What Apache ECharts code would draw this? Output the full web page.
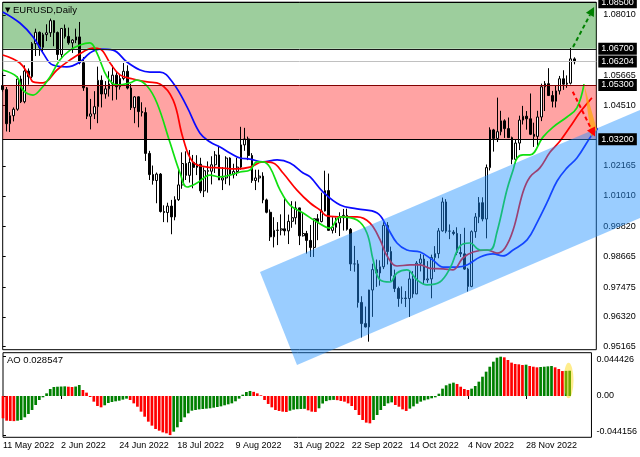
<!DOCTYPE html>
<html><head><meta charset="utf-8">
<script src="https://cdn.jsdelivr.net/npm/echarts@6/dist/echarts.min.js"></script>
<style>html,body{margin:0;padding:0;background:#fff}#c{width:640px;height:457px}</style>
</head><body><div id="c"></div>
<script>
const FONT = '"Liberation Sans Narrow","Liberation Sans",Arial,sans-serif';

const tickLabels = ['11 May 2022','2 Jun 2022','24 Jun 2022','18 Jul 2022','9 Aug 2022','31 Aug 2022','22 Sep 2022','14 Oct 2022','4 Nov 2022','28 Nov 2022'];
const tickBars = [0,16,32,48,64,80,96,112,128,144];

const opens = [1.0528,1.0512,1.0380,1.0411,1.0436,1.0553,1.0465,1.0584,1.0562,1.0690,
1.0734,1.0676,1.0725,1.0732,1.0779,1.0733,1.0648,1.0749,1.0718,1.0693,
1.0704,1.0716,1.0616,1.0519,1.0409,1.0418,1.0446,1.0548,1.0495,1.0515,
1.0534,1.0568,1.0523,1.0555,1.0583,1.0518,1.0442,1.0484,1.0427,1.0423,
1.0265,1.0183,1.0160,1.0185,1.0040,1.0036,1.0061,1.0019,1.0086,1.0143,
1.0226,1.0180,1.0230,1.0211,1.0223,1.0120,1.0198,1.0196,1.0221,1.0259,
1.0162,1.0170,1.0247,1.0183,1.0195,1.0212,1.0298,1.0321,1.0257,1.0160,
1.0170,1.0177,1.0085,1.0037,0.9942,0.9967,0.9968,0.9973,0.9965,1.0002,
1.0016,1.0054,0.9946,0.9955,0.9928,0.9901,1.0012,1.0001,1.0042,1.0121,
0.9967,0.9979,0.9996,1.0016,1.0025,0.9971,0.9837,0.9837,0.9688,0.9606,
0.9593,0.9736,0.9815,0.9802,0.9826,0.9986,0.9885,0.9791,0.9742,0.9703,
0.9705,0.9703,0.9779,0.9721,0.9840,0.9856,0.9775,0.9779,0.9862,0.9877,
0.9965,1.0077,0.9964,0.9960,0.9955,0.9881,0.9876,0.9817,0.9750,0.9962,
1.0019,1.0074,1.0011,1.0210,1.0356,1.0323,1.0349,1.0391,1.0361,1.0326,
1.0242,1.0305,1.0394,1.0409,1.0399,1.0339,1.0331,1.0406,1.0523,1.0535,
1.0489,1.0467,1.0507,1.0554,1.0533,1.0537,1.0631];
const highs = [1.0577,1.0522,1.0425,1.0443,1.0563,1.0566,1.0606,1.0594,1.0696,1.0748,
1.0737,1.0732,1.0765,1.0787,1.0781,1.0737,1.0750,1.0764,1.0752,1.0707,
1.0748,1.0774,1.0638,1.0522,1.0476,1.0506,1.0601,1.0567,1.0545,1.0583,
1.0606,1.0580,1.0570,1.0615,1.0606,1.0534,1.0487,1.0486,1.0463,1.0443,
1.0275,1.0218,1.0191,1.0189,1.0064,1.0074,1.0085,1.0099,1.0201,1.0269,
1.0273,1.0278,1.0259,1.0258,1.0248,1.0211,1.0234,1.0254,1.0274,1.0294,
1.0212,1.0254,1.0250,1.0225,1.0248,1.0368,1.0364,1.0330,1.0266,1.0202,
1.0202,1.0192,1.0090,1.0048,1.0018,0.9999,1.0029,1.0090,1.0028,1.0080,
1.0079,1.0055,1.0034,0.9965,0.9988,1.0012,1.0030,1.0113,1.0198,1.0187,
1.0018,1.0017,1.0037,1.0050,1.0051,0.9976,0.9907,0.9852,0.9712,0.9672,
0.9737,0.9838,0.9854,0.9851,0.9999,0.9999,0.9904,0.9815,0.9749,0.9750,
0.9732,0.9808,0.9809,0.9848,0.9876,0.9872,0.9848,0.9873,0.9906,0.9976,
1.0094,1.0088,0.9990,0.9968,0.9979,0.9953,0.9977,0.9822,0.9967,1.0034,
1.0096,1.0095,1.0222,1.0366,1.0360,1.0481,1.0430,1.0397,1.0404,1.0330,
1.0317,1.0411,1.0449,1.0429,1.0497,1.0384,1.0430,1.0535,1.0545,1.0595,
1.0507,1.0528,1.0565,1.0587,1.0567,1.0673,1.0637];
const lows = [1.0504,1.0350,1.0348,1.0389,1.0430,1.0460,1.0459,1.0531,1.0556,1.0642,
1.0643,1.0660,1.0700,1.0716,1.0680,1.0627,1.0633,1.0710,1.0686,1.0654,
1.0692,1.0610,1.0507,1.0398,1.0358,1.0398,1.0382,1.0443,1.0477,1.0485,
1.0470,1.0473,1.0512,1.0548,1.0513,1.0433,1.0382,1.0366,1.0408,1.0236,
1.0162,1.0144,1.0072,1.0036,0.9999,0.9998,0.9952,1.0006,1.0081,1.0128,
1.0162,1.0152,1.0130,1.0181,1.0111,1.0096,1.0113,1.0145,1.0189,1.0162,
1.0123,1.0146,1.0141,1.0168,1.0178,1.0202,1.0275,1.0239,1.0151,1.0123,
1.0153,1.0072,1.0033,0.9926,0.9901,0.9910,0.9948,0.9947,0.9914,0.9977,
0.9990,0.9910,0.9943,0.9877,0.9864,0.9864,0.9929,0.9998,1.0040,0.9966,
0.9955,0.9957,0.9945,0.9966,0.9966,0.9810,0.9807,0.9668,0.9552,0.9591,
0.9536,0.9632,0.9748,0.9753,0.9817,0.9835,0.9771,0.9728,0.9671,0.9683,
0.9670,0.9632,0.9706,0.9720,0.9808,0.9758,0.9764,0.9704,0.9806,0.9859,
0.9962,0.9956,0.9933,0.9948,0.9871,0.9864,0.9814,0.9730,0.9747,0.9938,
0.9995,1.0002,0.9936,1.0199,1.0272,1.0309,1.0335,1.0325,1.0326,1.0223,
1.0226,1.0278,1.0377,1.0357,1.0336,1.0290,1.0289,1.0390,1.0429,1.0490,
1.0443,1.0443,1.0493,1.0511,1.0519,1.0532,1.0610];
const closes = [1.0512,1.0380,1.0411,1.0436,1.0553,1.0465,1.0584,1.0562,1.0690,1.0734,
1.0676,1.0725,1.0732,1.0779,1.0733,1.0648,1.0749,1.0718,1.0693,1.0704,
1.0716,1.0616,1.0519,1.0409,1.0418,1.0446,1.0548,1.0495,1.0515,1.0534,
1.0568,1.0523,1.0555,1.0583,1.0518,1.0442,1.0484,1.0427,1.0423,1.0265,
1.0183,1.0160,1.0185,1.0040,1.0036,1.0061,1.0019,1.0086,1.0143,1.0226,
1.0180,1.0230,1.0211,1.0223,1.0120,1.0198,1.0196,1.0221,1.0259,1.0162,
1.0170,1.0247,1.0183,1.0195,1.0212,1.0298,1.0321,1.0257,1.0160,1.0170,
1.0177,1.0085,1.0037,0.9942,0.9967,0.9968,0.9973,0.9965,1.0002,1.0016,
1.0054,0.9946,0.9955,0.9928,0.9901,1.0012,1.0001,1.0042,1.0121,0.9967,
0.9979,0.9996,1.0016,1.0025,0.9971,0.9837,0.9837,0.9688,0.9606,0.9593,
0.9736,0.9815,0.9802,0.9826,0.9986,0.9885,0.9791,0.9742,0.9703,0.9705,
0.9703,0.9779,0.9721,0.9840,0.9856,0.9775,0.9779,0.9862,0.9877,0.9965,
1.0077,0.9964,0.9964,0.9955,0.9881,0.9876,0.9817,0.9750,0.9962,1.0019,
1.0074,1.0011,1.0210,1.0356,1.0323,1.0349,1.0391,1.0361,1.0326,1.0242,
1.0305,1.0394,1.0409,1.0399,1.0339,1.0331,1.0406,1.0523,1.0535,1.0489,
1.0467,1.0507,1.0554,1.0533,1.0537,1.0631,1.0620];

// Alligator lines: [bar index, price]
const jawLine = [[0,1.0813],[4.7,1.0770],[8.3,1.0716],[11,1.0654],[13.7,1.0607],[17.5,1.0600],[21.1,1.0619],[23.8,1.0654],[26.6,1.0669],[30.1,1.0665],[33.9,1.0619],[37.5,1.0588],[40.2,1.0580],[42.9,1.0580],[46.5,1.0538],[50.3,1.0445],[53.8,1.0344],[56.6,1.0309],[59.3,1.0290],[62,1.0267],[64.8,1.0247],[67.5,1.0243],[71,1.0232],[74.9,1.0240],[78.4,1.0228],[82,1.0189],[83.9,1.0174],[87.4,1.0116],[92.1,1.0065],[96.7,1.0050],[102.2,1.0034],[104.9,0.9980],[107.6,0.9918],[110.3,0.9891],[113.9,0.9883],[117.4,0.9852],[120.2,0.9825],[124,0.9825],[126.7,0.9833],[130.3,0.9864],[133.8,0.9876],[136.5,0.9868],[139.3,0.9891],[143.1,0.9930],[145.8,0.9996],[148.5,1.0073],[151.3,1.0158],[154,1.0209],[156.7,1.0247],[160.8,1.0336],[163,1.0368]];
const teethLine = [[0,1.0646],[4.7,1.0615],[7.4,1.0561],[8.3,1.0542],[11,1.0538],[14.8,1.0588],[18.4,1.0627],[21.9,1.0658],[24.6,1.0673],[26.6,1.0669],[29.3,1.0615],[32,1.0569],[35.6,1.0553],[39.4,1.0542],[42.9,1.0534],[46.5,1.0472],[49.2,1.0325],[51.9,1.0232],[55.8,1.0212],[59.3,1.0209],[63.7,1.0205],[67.5,1.0212],[71,1.0232],[73.8,1.0228],[76.5,1.0189],[80.3,1.0123],[83.9,1.0073],[86.6,1.0046],[88.5,1.0023],[92.9,1.0019],[96.7,1.0019],[100.2,0.9996],[103,0.9930],[104.9,0.9868],[107.6,0.9829],[111.2,0.9833],[113.9,0.9833],[116.6,0.9820],[120.2,0.9818],[122.9,0.9814],[125.6,0.9860],[128.4,0.9883],[132.2,0.9891],[134.9,0.9879],[137.1,0.9899],[139.3,0.9968],[142,1.0116],[143.9,1.0174],[146.6,1.0209],[149.4,1.0270],[152.1,1.0313],[154.8,1.0367],[157.6,1.0425],[160.8,1.0480]];
const lipsLine = [[0,1.0588],[3.9,1.0561],[5.5,1.0511],[8.3,1.0491],[10.2,1.0511],[12.9,1.0561],[15.6,1.0627],[18.4,1.0665],[21.1,1.0685],[23.8,1.0693],[25.7,1.0654],[28.5,1.0561],[31.2,1.0530],[34.7,1.0538],[36.6,1.0549],[39.4,1.0526],[42.1,1.0460],[45.7,1.0305],[48.4,1.0189],[50.3,1.0135],[53,1.0150],[56.6,1.0181],[59.3,1.0174],[62,1.0181],[64.8,1.0193],[67.5,1.0201],[69.4,1.0232],[71,1.0232],[72.9,1.0212],[75.7,1.0123],[78.4,1.0065],[82,1.0034],[85.8,0.9999],[89.3,0.9976],[92.1,1.0019],[96.7,1.0007],[99.4,0.9957],[101.1,0.9852],[103,0.9775],[105.7,0.9767],[107.6,0.9802],[110.3,0.9814],[113.1,0.9775],[115.8,0.9756],[119.3,0.9767],[122.1,0.9821],[124.8,0.9906],[127.5,0.9918],[130.3,0.9891],[133,0.9891],[134.9,0.9961],[137.6,1.0123],[139.3,1.0201],[140.4,1.0247],[142,1.0259],[143.9,1.0259],[147.5,1.0329],[150.2,1.0367],[154,1.0406],[156.7,1.0441],[158.65,1.0533]];

const aoValues = [-0.0252,-0.0279,-0.0282,-0.0284,-0.0279,-0.0271,-0.0241,-0.0203,-0.0158,-0.0102,
-0.0045,-0.0015,0.0030,0.0079,0.0102,0.0105,0.0107,0.0109,0.0105,0.0102,
0.0107,0.0124,0.0068,0.0038,-0.0011,-0.0064,-0.0113,-0.0128,-0.0105,-0.0079,
-0.0068,-0.0060,-0.0053,-0.0041,-0.0030,-0.0045,-0.0083,-0.0121,-0.0177,-0.0234,
-0.0290,-0.0335,-0.0373,-0.0392,-0.0411,-0.0422,-0.04416,-0.0403,-0.0354,-0.0294,
-0.0241,-0.0196,-0.0166,-0.0158,-0.0151,-0.0147,-0.0143,-0.0139,-0.0132,-0.0124,
-0.0117,-0.0105,-0.0094,-0.0083,-0.0060,-0.0030,0.0015,0.0045,0.0057,0.0047,
0.0030,0.0008,-0.0045,-0.0090,-0.0128,-0.0158,-0.0169,-0.0177,-0.0181,-0.0166,
-0.0154,-0.0149,-0.0147,-0.0145,-0.0162,-0.0177,-0.0180,-0.0139,-0.0085,-0.0058,
-0.0047,-0.0044,-0.0047,-0.0056,-0.0064,-0.0083,-0.0113,-0.0158,-0.0215,-0.0271,
-0.0301,-0.0309,-0.0271,-0.0215,-0.0158,-0.0113,-0.0083,-0.0072,-0.0102,-0.0121,
-0.0151,-0.0169,-0.0143,-0.0117,-0.0087,-0.0064,-0.0049,-0.0038,-0.0026,-0.0015,
0.0026,0.0083,0.0121,0.0139,0.0151,0.0136,0.0105,0.0079,0.0068,0.0083,
0.0113,0.0162,0.0218,0.0275,0.0331,0.0388,0.0433,0.044426,0.0437,0.0407,
0.0377,0.0362,0.0358,0.0350,0.0354,0.0339,0.0331,0.0324,0.0328,0.0331,
0.0335,0.0339,0.0324,0.0305,0.0282,0.0284,0.028547];

const priceTicks = [1.08010,1.05665,1.04510,1.02165,1.01010,0.99820,0.98665,0.97475,0.96320,0.95165];
const aoTicks = [0.044426,0,-0.044156];
const greenZone = [1.067,1.085];
const redZone = [1.032,1.053];
const bidPrice = [1.06204];
const channelPts = [[70.22,0.98058],[190.3,1.05323],[190.3,1.01144],[80.32,0.94457]];
const projectionPts = [[158.65,1.05326],[162.2,1.03557],[160.6,1.03286]];
const upArrow = [[155.65,1.06771],[161.4,1.08320]];
const downArrow = [[155.57,1.05040],[161.65,1.03305]];
const aoHighlight = [155.7,0.0175,1.36,0.0201]; // centre x, centre y, radius x, radius y

const chart = echarts.init(document.getElementById('c'), null, {renderer:'canvas'});
const txt = {fontFamily: FONT, fontSize: 9, color: '#000'};

function arrowRender(pts, color){
  return function(params, api){
    const a = api.coord(pts[0]), b = api.coord(pts[1]);
    const ang = Math.atan2(b[1]-a[1], b[0]-a[0]);
    const L = 9, W = 4.5;
    const bx = b[0]-L*Math.cos(ang), by = b[1]-L*Math.sin(ang);
    return {type:'group', children:[
      {type:'line', shape:{x1:a[0],y1:a[1],x2:bx,y2:by}, style:{stroke:color,lineWidth:2,lineDash:[4,3],fill:null}},
      {type:'polygon', shape:{points:[b,[bx+W*Math.sin(ang),by-W*Math.cos(ang)],[bx-W*Math.sin(ang),by+W*Math.cos(ang)]]}, style:{fill:color}}
    ]};
  };
}

function boxLabel(v){
  return {show:true, position:'end', distance:2, formatter:()=>v.toFixed(5), color:'#fff', backgroundColor:'#000', padding:[2,3,1,3], fontFamily:FONT, fontSize:9};
}

const option = {
  animation:false,
  backgroundColor:'#fff',
  title:[
    {text:'{t|▼} EURUSD,Daily', left:5, top:5, padding:0, textStyle:Object.assign({}, txt, {fontWeight:'normal', fontSize:9.5, rich:{t:{fontFamily:'DejaVu Sans', fontSize:7, color:'#000'}}})},
    {text:'AO 0.028547', left:7, top:355, padding:0, textStyle:Object.assign({}, txt, {fontWeight:'normal', fontSize:9.5})}
  ],
  grid:[
    {left:2.7, top:2.2, width:593.6, height:347.5, show:true, borderColor:'#000', borderWidth:1, backgroundColor:'#fff'},
    {left:2.7, top:352.7, width:593.6, height:84.6, show:true, borderColor:'#000', borderWidth:1, backgroundColor:'#fff'}
  ],
  xAxis:[
    {type:'value', gridIndex:0, min:0, max:162, axisLine:{show:false}, axisTick:{show:false}, axisLabel:{show:false}, splitLine:{show:false}},
    {type:'value', gridIndex:1, min:0, max:162, axisLine:{show:false},
      axisTick:{show:true, customValues:tickBars, length:3, lineStyle:{color:'#000'}},
      axisLabel:Object.assign({customValues:tickBars, showMinLabel:true, align:'left', margin:4, formatter:v=>{const k=tickBars.indexOf(Math.round(v));return k>=0?tickLabels[k]:'';}}, txt),
      splitLine:{show:false}}
  ],
  yAxis:[
    {type:'value', gridIndex:0, position:'right', min:0.950491, max:1.08505, axisLine:{show:false},
      axisTick:{show:true, customValues:priceTicks, length:3, lineStyle:{color:'#000'}},
      axisLabel:Object.assign({customValues:priceTicks, showMinLabel:true, showMaxLabel:true, margin:7, formatter:v=>v.toFixed(5)}, txt),
      splitLine:{show:false}},
    {type:'value', gridIndex:1, position:'right', min:-0.046667, max:0.048927, axisLine:{show:false},
      axisTick:{show:true, customValues:aoTicks, length:3, lineStyle:{color:'#000'}},
      axisLabel:Object.assign({customValues:aoTicks, showMinLabel:true, showMaxLabel:true, margin:5,
        formatter:v=>v===0?'0.00':(v>0?'{hi|'+v.toFixed(6)+'}':'{lo|'+v.toFixed(6)+'}'),
        rich:{hi:{fontFamily:FONT,fontSize:9,color:'#000',padding:[5,0,0,0]}, lo:{fontFamily:FONT,fontSize:9,color:'#000',padding:[0,0,8,0]}}}, txt),
      splitLine:{show:false}}
  ],
  series:[
    {type:'candlestick', name:'EURUSD', xAxisIndex:0, yAxisIndex:0, z:2, barWidth:2.2,
      dimensions:['idx','open','close','lowest','highest'], encode:{x:'idx', y:['open','close','lowest','highest']},
      data: opens.map((o,i)=>[i,o,closes[i],lows[i],highs[i]]),
      itemStyle:{color:'#fff', color0:'#000', borderColor:'#000', borderColor0:'#000', borderWidth:1}},
    {type:'line', name:'Jaw', xAxisIndex:0, yAxisIndex:0, z:3, data:jawLine, smooth:0.4, showSymbol:false, lineStyle:{color:'#0a0aff', width:1.7}},
    {type:'line', name:'Teeth', xAxisIndex:0, yAxisIndex:0, z:3, data:teethLine, smooth:0.4, showSymbol:false, lineStyle:{color:'#ff0000', width:1.7}},
    {type:'line', name:'Lips', xAxisIndex:0, yAxisIndex:0, z:3, data:lipsLine, smooth:0.4, showSymbol:false, lineStyle:{color:'#10e010', width:1.7}},
    {type:'line', name:'levels', xAxisIndex:0, yAxisIndex:0, z:4, data:[], silent:true,
      markArea:{silent:true, data:[
        [{yAxis:greenZone[0], itemStyle:{color:'rgba(0,128,0,0.385)'}},{yAxis:greenZone[1]}],
        [{yAxis:redZone[0], itemStyle:{color:'rgba(255,0,0,0.36)'}},{yAxis:redZone[1]}]
      ]},
      markLine:{silent:true, symbol:'none', precision:6, data:[
        {yAxis:greenZone[1], lineStyle:{color:'#000', width:1, type:'solid'}, label:boxLabel(greenZone[1])},
        {yAxis:greenZone[0], lineStyle:{color:'#1a1a1a', width:1, type:'solid'}, label:boxLabel(greenZone[0])},
        {yAxis:bidPrice[0], lineStyle:{color:'#c0c0c0', width:1, type:'solid'}, label:boxLabel(bidPrice[0])},
        {yAxis:redZone[1], lineStyle:{color:'#800000', width:1, type:'solid'}, label:boxLabel(redZone[1])},
        {yAxis:redZone[0], lineStyle:{color:'#000', width:1, type:'solid'}, label:boxLabel(redZone[0])}
      ]}},
    {type:'custom', name:'channel', xAxisIndex:0, yAxisIndex:0, z:5, clip:false, silent:true, data:[[0,1]],
      renderItem:(p,api)=>({type:'polygon', shape:{points:channelPts.map(q=>api.coord(q))}, style:{fill:'rgba(30,144,255,0.45)'}})},
    {type:'custom', name:'projection', xAxisIndex:0, yAxisIndex:0, z:6, clip:false, silent:true, data:[[0,1]],
      renderItem:(p,api)=>({type:'polygon', shape:{points:projectionPts.map(q=>api.coord(q))}, style:{fill:'rgba(255,165,0,0.7)'}})},
    {type:'custom', name:'up', xAxisIndex:0, yAxisIndex:0, z:7, clip:false, silent:true, data:[[0,1]], renderItem:arrowRender(upArrow,'#008000')},
    {type:'custom', name:'down', xAxisIndex:0, yAxisIndex:0, z:7, clip:false, silent:true, data:[[0,1]], renderItem:arrowRender(downArrow,'#ff0000')},
    {type:'bar', name:'AO', xAxisIndex:1, yAxisIndex:1, z:2, barWidth:2.7,
      data: aoValues.map((v,i)=>[i,v]),
      itemStyle:{color:p=>{const i=p.dataIndex;return (i>0 && aoValues[i]>aoValues[i-1])?'#008000':'#ff0000';}}},
    {type:'custom', name:'highlight', xAxisIndex:1, yAxisIndex:1, z:5, clip:false, silent:true, data:[[0,0]],
      renderItem:(p,api)=>{const c=api.coord([aoHighlight[0],aoHighlight[1]]);const s=api.size([aoHighlight[2],aoHighlight[3]]);
        return {type:'circle', x:c[0], y:c[1], scaleY:s[1]/s[0], shape:{cx:0,cy:0,r:s[0]}, style:{fill:'rgba(255,215,0,0.45)'}};}}
  ]
};
chart.setOption(option);
</script></body></html>
